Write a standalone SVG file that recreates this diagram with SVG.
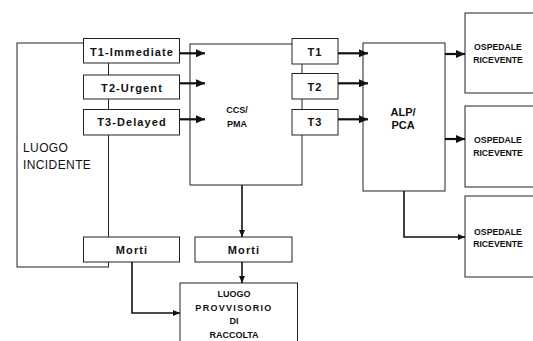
<svg xmlns="http://www.w3.org/2000/svg" width="533" height="341" viewBox="0 0 533 341">
<style>
.box{fill:#fff;stroke:#222;stroke-width:1}
.t{font-family:"Liberation Sans",Arial,sans-serif;font-weight:bold;fill:#111;text-anchor:middle}
.s11{font-size:11px;letter-spacing:1.1px}
.s11n{font-size:11px}
.s9{font-size:9px}
.osp{font-size:8.7px}
.reg{font-family:"Liberation Sans",Arial,sans-serif;font-size:12px;letter-spacing:0.4px;fill:#111}
.thick{fill:none;stroke:#111;stroke-width:2.2}
.thin{fill:none;stroke:#111;stroke-width:1.6}
</style>
<defs>
<marker id="ah" markerUnits="userSpaceOnUse" markerWidth="9" markerHeight="8" refX="9" refY="4" orient="auto"><path d="M0,0 L9,4 L0,8 z" fill="#111"/></marker>
<marker id="ahs" markerUnits="userSpaceOnUse" markerWidth="7" markerHeight="6" refX="7" refY="3" orient="auto"><path d="M0,0 L7,3 L0,6 z" fill="#111"/></marker>
</defs>
<rect width="533" height="341" fill="#fff"/>
<g id="luogo-incidente">
<rect class="box" x="17" y="43" width="91.5" height="224"/>
<text class="reg" x="23" y="152">LUOGO</text>
<text class="reg" x="23" y="169">INCIDENTE</text>
</g>
<g id="t1-immediate"><rect class="box" x="83.5" y="38.5" width="96" height="24.5"/><text class="t s11" x="132" y="56">T1-Immediate</text></g>
<g id="t2-urgent"><rect class="box" x="83.5" y="75" width="96" height="24"/><text class="t s11" x="132" y="91.5">T2-Urgent</text></g>
<g id="t3-delayed"><rect class="box" x="83.5" y="109.5" width="96" height="25.5"/><text class="t s11" x="132" y="126">T3-Delayed</text></g>
<g id="ccs-pma">
<rect class="box" x="190" y="44" width="112" height="141"/>
<text class="t s9" x="237" y="113">CCS/</text>
<text class="t s9" x="237" y="126.7">PMA</text>
</g>
<g id="t1"><rect class="box" x="292" y="38.5" width="46" height="25.5"/><text class="t s11" x="315" y="56">T1</text></g>
<g id="t2"><rect class="box" x="292" y="73.5" width="46" height="25.5"/><text class="t s11" x="315" y="91">T2</text></g>
<g id="t3"><rect class="box" x="292" y="109.5" width="46" height="25.5"/><text class="t s11" x="315" y="126">T3</text></g>
<g id="alp-pca">
<rect class="box" x="363" y="43" width="82" height="148"/>
<text class="t s11n" x="403" y="116">ALP/</text>
<text class="t s11n" x="403" y="129">PCA</text>
</g>
<g id="ospedale-1"><rect class="box" x="465" y="13" width="80" height="80"/><text class="t osp" x="498" y="50">OSPEDALE</text><text class="t osp" x="498" y="62.5">RICEVENTE</text></g>
<g id="ospedale-2"><rect class="box" x="465" y="106" width="80" height="81"/><text class="t osp" x="498" y="143">OSPEDALE</text><text class="t osp" x="498" y="156">RICEVENTE</text></g>
<g id="ospedale-3"><rect class="box" x="465" y="196" width="80" height="81"/><text class="t osp" x="498" y="235">OSPEDALE</text><text class="t osp" x="498" y="247">RICEVENTE</text></g>
<g id="morti-1"><rect class="box" x="83.5" y="237" width="96" height="25"/><text class="t s11" x="132" y="254">Morti</text></g>
<g id="morti-2"><rect class="box" x="195" y="237" width="97" height="25"/><text class="t s11" x="244" y="254">Morti</text></g>
<g id="luogo-provvisorio">
<rect class="box" x="180" y="283" width="117.5" height="70"/>
<text class="t s9" x="234" y="297">LUOGO</text>
<text class="t s9" x="234" y="311" style="letter-spacing:1.3px">PROVVISORIO</text>
<text class="t s9" x="234" y="324">DI</text>
<text class="t s9" x="234" y="338">RACCOLTA</text>
</g>
<g id="connectors">
<line class="thick" x1="180" y1="53.3" x2="205" y2="53.3" marker-end="url(#ah)"/>
<line class="thick" x1="180" y1="83.3" x2="205" y2="83.3" marker-end="url(#ah)"/>
<line class="thick" x1="180" y1="119.3" x2="205" y2="119.3" marker-end="url(#ah)"/>
<line class="thick" x1="338" y1="53.3" x2="368" y2="53.3" marker-end="url(#ah)"/>
<line class="thick" x1="338" y1="83.3" x2="368" y2="83.3" marker-end="url(#ah)"/>
<line class="thick" x1="338" y1="119.3" x2="368" y2="119.3" marker-end="url(#ah)"/>
<line class="thick" x1="445" y1="54" x2="465" y2="54" marker-end="url(#ah)"/>
<line class="thick" x1="445" y1="139" x2="465" y2="139" marker-end="url(#ah)"/>
<path class="thin" d="M404,191 V237 H465" marker-end="url(#ahs)"/>
<line class="thin" x1="242" y1="185" x2="242" y2="237" marker-end="url(#ahs)"/>
<line class="thin" x1="242" y1="262" x2="242" y2="283" marker-end="url(#ahs)"/>
<path class="thin" d="M132,262 V313 H180" marker-end="url(#ahs)"/>
</g>
</svg>
